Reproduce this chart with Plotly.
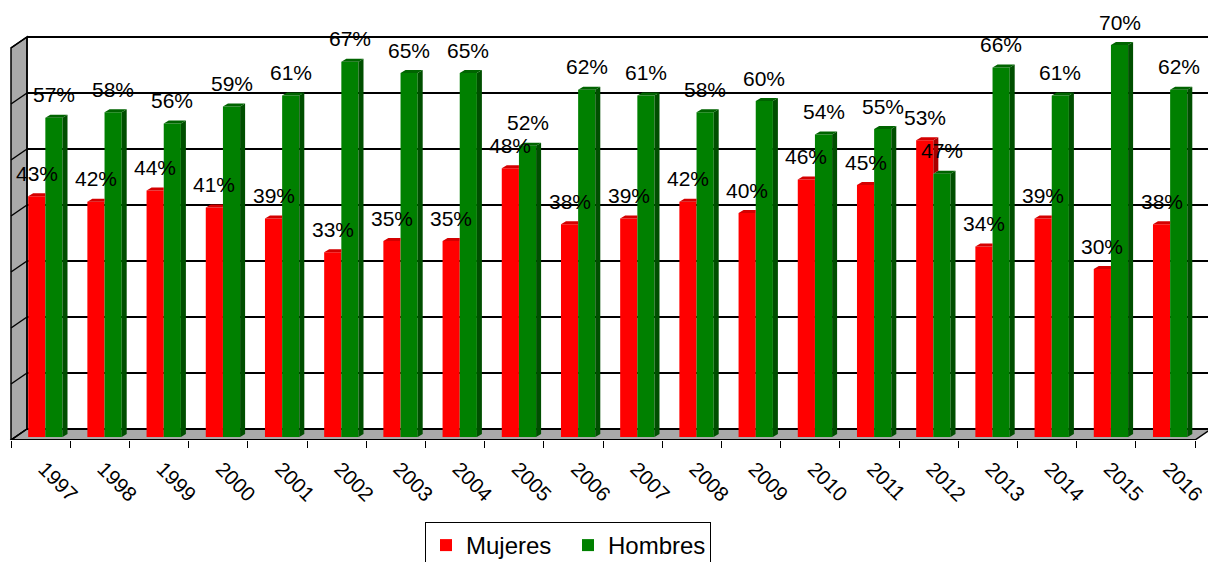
import plotly.graph_objects as go

# ---------------- data ----------------
years = [str(y) for y in range(1997, 2017)]
mujeres = [43, 42, 44, 41, 39, 33, 35, 35, 48, 38, 39, 42, 40, 46, 45, 53, 34, 39, 30, 38]
hombres = [57, 58, 56, 59, 61, 67, 65, 65, 52, 62, 61, 58, 60, 54, 55, 47, 66, 61, 70, 62]
grid_values = [0, 10, 20, 30, 40, 50, 60, 70]
series_names = ["Mujeres", "Hombres"]

# ---------------- styling / geometry ----------------
W, H = 1208, 562
PX_X0 = 11                 # pixel x of the front-left floor corner
PX_BASE = 437              # pixel y of the bar baseline
PX_PLOT_BOTTOM = 440       # pixel y of the front floor edge (plot-area bottom)
PX_PER_CAT, PX_PER_PCT = 59.2, 5.6
n = len(years)
x_range = [-PX_X0 / PX_PER_CAT, (W - PX_X0) / PX_PER_CAT]
y_range = [(PX_BASE - PX_PLOT_BOTTOM) / PX_PER_PCT, PX_BASE / PX_PER_PCT]
V_FRONT = y_range[0]                      # front edge offset of walls/floor
V_BACK = 8 / PX_PER_PCT                   # back edge offset of walls/floor
DXW = 16 / PX_PER_CAT
DXB, DYB = 5 / PX_PER_CAT, 3 / PX_PER_PCT      # depth of bars
BW = 0.29
OFFS = [0.29, 0.58]
FRONT = ["#ff0000", "#008000"]
SIDE = ["#a80000", "#004f00"]
TOP = ["#d40000", "#006400"]
WALL = "#a9a9a9"
FONT = "Liberation Sans, Arial, sans-serif"
VMAX = grid_values[-1]

fig = go.Figure()

def add_poly(polys, color):
    xs, ys = [], []
    for p in polys:
        for (px, py) in p:
            xs.append(px)
            ys.append(py)
        xs.append(p[0][0]); ys.append(p[0][1])
        xs.append(None); ys.append(None)
    fig.add_trace(go.Scatter(x=xs, y=ys, mode="lines", fill="toself", fillcolor=color,
                             line=dict(width=0, color=color), hoverinfo="skip",
                             showlegend=False))

values = [mujeres, hombres]

# front faces as bars
for s in range(2):
    fig.add_trace(go.Bar(
        x=[i + OFFS[s] + BW / 2 for i in range(n)], y=values[s], width=BW,
        name=series_names[s], marker=dict(color=FRONT[s], line=dict(width=0)),
        hovertemplate="%{customdata}: %{y}%<extra>" + series_names[s] + "</extra>",
        customdata=years,
    ))

# red side (only the part visible above green) and red top
red_side, red_top = [], []
for i in range(n):
    vr, vg = mujeres[i], hombres[i]
    xl = i + OFFS[0]
    xr = xl + BW
    if vr > vg:
        red_side.append([(xr, vg), (xr, vr), (xr + DXB, vr + DYB), (xr + DXB, vg + DYB)])
        red_top.append([(xl, vr), (xr, vr), (xr + DXB, vr + DYB), (xl + DXB, vr + DYB)])
    else:
        red_top.append([(xl, vr), (xr, vr), (xr, vr + DYB), (xl + DXB, vr + DYB)])
if red_side:
    add_poly(red_side, SIDE[0])
add_poly(red_top, TOP[0])

green_side, green_top = [], []
for i in range(n):
    vg = hombres[i]
    xl = i + OFFS[1]
    xr = xl + BW
    green_side.append([(xr, 0), (xr, vg), (xr + DXB, vg + DYB), (xr + DXB, DYB)])
    green_top.append([(xl, vg), (xr, vg), (xr + DXB, vg + DYB), (xl + DXB, vg + DYB)])
add_poly(green_side, SIDE[1])
add_poly(green_top, TOP[1])

# ---------- walls, floor, gridlines ----------
shapes = []
def path(pts):
    return "M " + " L ".join(f"{a},{b}" for a, b in pts) + " Z"

shapes.append(dict(type="path", xref="x", yref="y", layer="below",
                   path=path([(0, V_FRONT), (0, VMAX + V_FRONT),
                              (DXW, VMAX + V_BACK), (DXW, V_BACK)]),
                   fillcolor=WALL, line=dict(color="black", width=1.5)))
shapes.append(dict(type="path", xref="x", yref="y", layer="below",
                   path=path([(0, V_FRONT), (n, V_FRONT), (n + DXW, V_BACK), (DXW, V_BACK)]),
                   fillcolor=WALL, line=dict(color="black", width=1.5)))
for g in grid_values:
    shapes.append(dict(type="line", xref="x", yref="y", layer="below",
                       x0=DXW, x1=n + DXW, y0=g + V_BACK, y1=g + V_BACK,
                       line=dict(color="black", width=2)))
    shapes.append(dict(type="line", xref="x", yref="y", layer="below",
                       x0=0, x1=DXW, y0=g + V_FRONT, y1=g + V_BACK,
                       line=dict(color="black", width=1.5)))
shapes.append(dict(type="line", xref="x", yref="y", layer="below",
                   x0=DXW, x1=DXW, y0=V_BACK, y1=VMAX + V_BACK,
                   line=dict(color="black", width=1.5)))
shapes.append(dict(type="line", xref="x", yref="y", layer="below",
                   x0=0, x1=n, y0=V_FRONT, y1=V_FRONT,
                   line=dict(color="black", width=2)))

# ---------- data labels ----------
annotations = []
for s in range(2):
    for i in range(n):
        annotations.append(dict(
            x=i + OFFS[s] + BW / 2, y=values[s][i], xref="x", yref="y",
            text=f"{values[s][i]}%", showarrow=False, yanchor="middle", yshift=23,
            font=dict(family=FONT, size=21, color="black")))

fig.update_layout(
    width=W, height=H,
    margin=dict(l=0, r=0, t=0, b=H - PX_PLOT_BOTTOM, autoexpand=False),
    plot_bgcolor="white", paper_bgcolor="white",
    barmode="overlay",
    shapes=shapes, annotations=annotations,
    font=dict(family=FONT, size=20, color="black"),
    xaxis=dict(range=x_range, showgrid=False, zeroline=False, showline=False,
               automargin=False,
               tickmode="array", tickvals=[i + 0.56 for i in range(n)], ticktext=years,
               ticks="", tickangle=45, ticklabelstandoff=12,
               tickfont=dict(family=FONT, size=20.5, color="black"),
               minor=dict(tickmode="array", tickvals=list(range(n + 1)), ticks="outside",
                          ticklen=7, tickwidth=1, tickcolor="black", showgrid=False)),
    yaxis=dict(range=y_range, visible=False, automargin=False),
    legend=dict(orientation="h", x=425 / W, y=(PX_PLOT_BOTTOM - 522) / PX_PLOT_BOTTOM,
                xanchor="left", yanchor="top", entrywidth=97,
                bordercolor="black", borderwidth=1, bgcolor="white",
                font=dict(family=FONT, size=24, color="black")),
)

fig.write_html("out.html", config={"displayModeBar": False},
               post_script="document.body.style.margin='0';document.body.style.padding='0';")
